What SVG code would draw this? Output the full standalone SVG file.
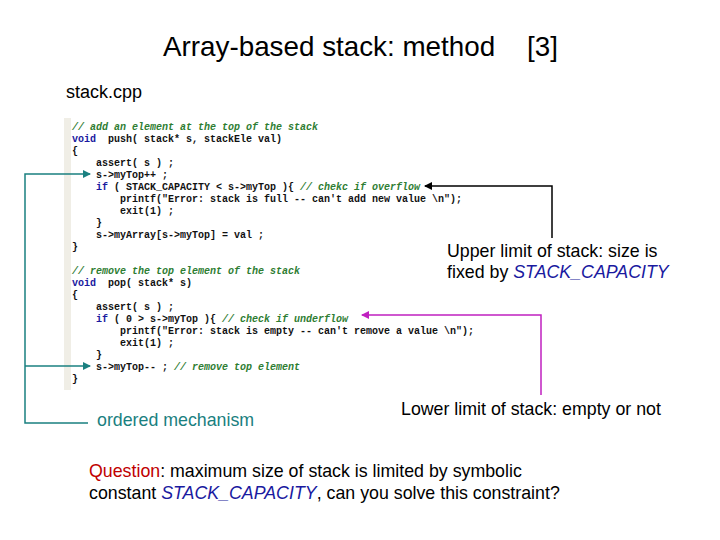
<svg xmlns="http://www.w3.org/2000/svg" width="720" height="540" viewBox="0 0 720 540">
<style>
.t{font-family:"Liberation Sans",Arial,sans-serif;fill:#000}
.c{font-family:"Liberation Mono","DejaVu Sans Mono",monospace;font-size:10px;font-weight:bold;fill:#111;white-space:pre}
.k{fill:#1a1aa0}.g{fill:#2e7d32;font-style:italic}
.bl{fill:#1a1aa0;font-style:italic}
</style>
<defs>
<marker id="at" markerWidth="8" markerHeight="8" refX="7" refY="4" orient="auto" markerUnits="userSpaceOnUse"><path d="M0,0 L8,4 L0,8 Z" fill="#1a8080"/></marker>
<marker id="ab" markerWidth="8" markerHeight="8" refX="7" refY="4" orient="auto" markerUnits="userSpaceOnUse"><path d="M0,0 L8,4 L0,8 Z" fill="#000"/></marker>
<marker id="am" markerWidth="8" markerHeight="8" refX="7" refY="4" orient="auto" markerUnits="userSpaceOnUse"><path d="M0,0 L8,4 L0,8 Z" fill="#c020c0"/></marker>
</defs>
<rect width="720" height="540" fill="#fff"/>
<text class="t" x="163" y="56" font-size="27.8">Array-based stack: method</text>
<text class="t" x="527" y="56" font-size="27.8">[3]</text>
<text class="t" x="66" y="98" font-size="18">stack.cpp</text>
<g id="code">
<rect x="64" y="118" width="7" height="272" fill="#f0eee6"/>
<text class="c" x="72" y="130"><tspan class="g">// add an element at the top of the stack</tspan></text>
<text class="c" x="72" y="142"><tspan class="k">void</tspan>  push( stack* s, stackEle val)</text>
<text class="c" x="72" y="154">{</text>
<text class="c" x="96" y="166">assert( s ) ;</text>
<text class="c" x="96" y="178">s-&gt;myTop++ ;</text>
<text class="c" x="96" y="190"><tspan class="k">if</tspan> ( STACK_CAPACITY &lt; s-&gt;myTop ){ <tspan class="g">// chekc if overflow</tspan></text>
<text class="c" x="120" y="202">printf("Error: stack is full -- can't add new value \n");</text>
<text class="c" x="120" y="214">exit(1) ;</text>
<text class="c" x="96" y="226">}</text>
<text class="c" x="96" y="238">s-&gt;myArray[s-&gt;myTop] = val ;</text>
<text class="c" x="72" y="250">}</text>
<text class="c" x="72" y="274"><tspan class="g">// remove the top element of the stack</tspan></text>
<text class="c" x="72" y="286"><tspan class="k">void</tspan>  pop( stack* s)</text>
<text class="c" x="72" y="298">{</text>
<text class="c" x="96" y="310">assert( s ) ;</text>
<text class="c" x="96" y="322"><tspan class="k">if</tspan> ( 0 &gt; s-&gt;myTop ){ <tspan class="g">// check if underflow</tspan></text>
<text class="c" x="120" y="334">printf("Error: stack is empty -- can't remove a value \n");</text>
<text class="c" x="120" y="346">exit(1) ;</text>
<text class="c" x="96" y="358">}</text>
<text class="c" x="96" y="370">s-&gt;myTop-- ; <tspan class="g">// remove top element</tspan></text>
<text class="c" x="72" y="382">}</text>
</g>
<g id="connectors" fill="none" stroke-width="1.5">
<path d="M88,423 H25 V174 H90" stroke="#1a8080" marker-end="url(#at)"/>
<path d="M25,366 H90" stroke="#1a8080" marker-end="url(#at)"/>
<path d="M552,238 V186 H425" stroke="#000" marker-end="url(#ab)"/>
<path d="M541,395 V315 H362" stroke="#c020c0" marker-end="url(#am)"/>
</g>
<g id="upper"><text class="t" x="447" y="257" font-size="17.8">Upper limit of stack: size is</text>
<text class="t" x="447" y="278" font-size="17.8">fixed by <tspan class="bl">STACK_CAPACITY</tspan></text></g>
<g id="lower"><text class="t" x="401" y="415" font-size="17.8">Lower limit of stack: empty or not</text></g>
<g id="ordered"><text class="t" x="97" y="426" font-size="17.8" style="fill:#1a8080">ordered mechanism</text></g>
<g id="question"><text class="t" x="89" y="477" font-size="17.8"><tspan fill="#c00000">Question</tspan>: maximum size of stack is limited by symbolic</text>
<text class="t" x="89" y="499" font-size="17.8">constant <tspan class="bl">STACK_CAPACITY</tspan>, can you solve this constraint?</text></g>
</svg>
